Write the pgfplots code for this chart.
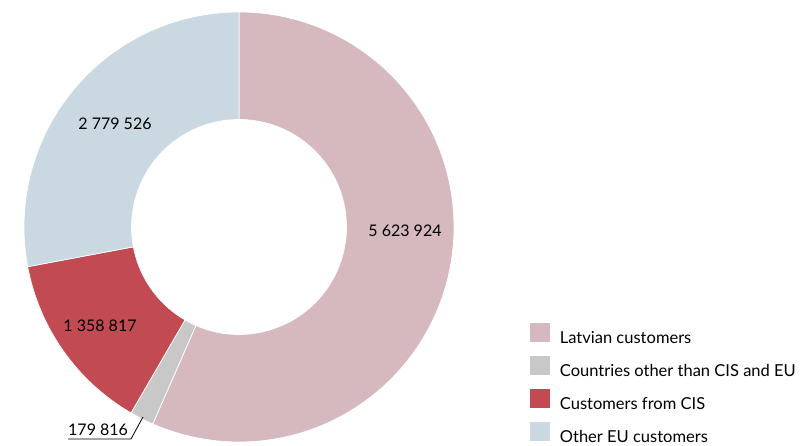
\documentclass[border=0pt]{standalone}
\usepackage{pgfplots}
\pgfplotsset{compat=1.18}
\usepackage{pgfplotstable}
\usepackage{fontspec}
\setmainfont{Lato}

\definecolor{latv}{HTML}{D5B9BF}
\definecolor{othc}{HTML}{C8C8C8}
\definecolor{cis}{HTML}{C24A53}
\definecolor{eu}{HTML}{C9D8E1}

\pgfplotstableread{
value
5623924
179816
1358817
2779526
}\shares

\pgfplotstablegetelem{0}{value}\of\shares \let\vA\pgfplotsretval
\pgfplotstablegetelem{1}{value}\of\shares \let\vB\pgfplotsretval
\pgfplotstablegetelem{2}{value}\of\shares \let\vC\pgfplotsretval
\pgfplotstablegetelem{3}{value}\of\shares \let\vD\pgfplotsretval
\edef\total{\fpeval{\vA+\vB+\vC+\vD}}
\edef\aA{90}
\edef\aB{\fpeval{round(90-360*\vA/\total,4)}}
\edef\aC{\fpeval{round(\aB-360*\vB/\total,4)}}
\edef\aD{\fpeval{round(\aC-360*\vC/\total,4)}}
\edef\aE{-270}

\newcommand\slice[3]{%
  \fill[#3, draw=white, line width=0.7pt] (axis cs:239,219) ++(#1:215pt)
    arc[start angle=#1, end angle=#2, radius=215pt]
    -- ++(#2+180:107.5pt)
    arc[start angle=#2, end angle=#1, radius=107.5pt] -- cycle;}

\begin{document}
\begin{tikzpicture}
\useasboundingbox (0,0) rectangle (804pt,446pt);
\begin{axis}[
  at={(0,0)}, anchor=south west,
  hide axis, x=1pt, y=1pt,
  xmin=0, xmax=804, ymin=0, ymax=446,
  clip=false,
  legend cell align=left,
  legend image code/.code={\fill[#1] (0pt,-3.5pt) rectangle (18.5pt,15pt);},
  legend style={draw=none, fill=none, at={(axis cs:530,123)}, anchor=north west,
    inner sep=0pt, outer sep=0pt, row sep=11pt,
    font=\fontsize{16.5}{19}\selectfont,
    nodes={inner sep=0pt},
    /tikz/every odd column/.append style={column sep=11pt}},
]
\slice{\aA}{\aB}{latv}
\slice{\aB}{\aC}{othc}
\slice{\aC}{\aD}{cis}
\slice{\aD}{\aE}{eu}
\addlegendimage{latv}\addlegendentry{Latvian customers}
\addlegendimage{othc}\addlegendentry{Countries other than CIS and EU}
\addlegendimage{cis}\addlegendentry{Customers from CIS}
\addlegendimage{eu}\addlegendentry{Other EU customers}
\begin{scope}[every node/.style={font=\fontsize{16}{19}\selectfont, inner sep=0pt}]
\node at (axis cs:405,215) {5 623 924};
\node at (axis cs:115,322) {2 779 526};
\node at (axis cs:100,120) {1 358 817};
\node[anchor=base west] at (axis cs:68,10) {179 816};
\end{scope}
\draw[black, line width=0.8pt] (axis cs:68,7) -- (axis cs:131,7) -- (axis cs:143,29);
\end{axis}
\end{tikzpicture}
\end{document}
